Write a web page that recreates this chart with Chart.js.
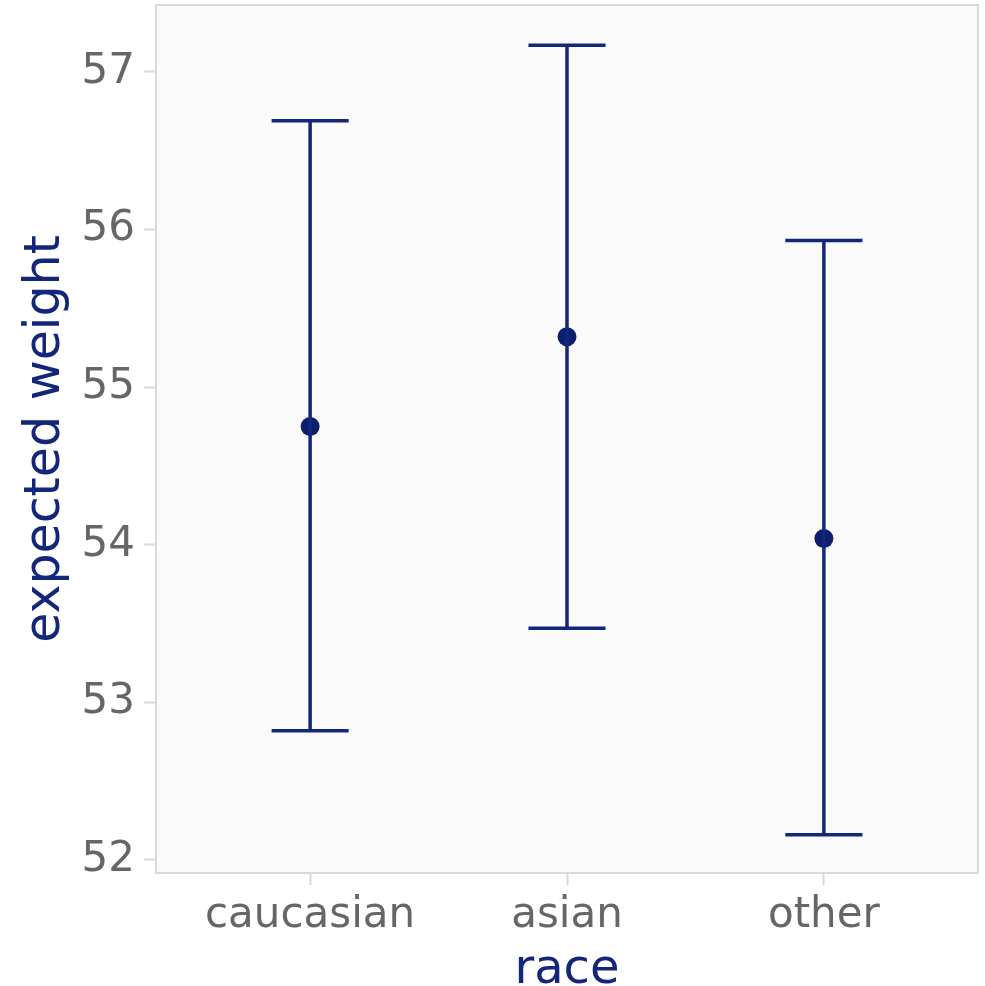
<!DOCTYPE html>
<html>
<head>
<meta charset="utf-8">
<script src="https://cdn.jsdelivr.net/npm/chart.js@4/dist/chart.umd.min.js"></script>
<style>
  html, body { margin: 0; padding: 0; background: #ffffff; }
  #wrap { width: 985px; height: 986px; }
</style>
</head>
<body>
<div id="wrap"><canvas id="c" width="985" height="986"></canvas></div>
<script>
// Expected weight by race, with interval bounds
const categories = ['caucasian', 'asian', 'other'];
const estimate = [54.75, 55.32, 54.04];
const lower = [52.82, 53.47, 52.16];
const upper = [56.69, 57.17, 55.93];
const yTicks = [52, 53, 54, 55, 56, 57];

const navy = '#14267a';
const capHalf = 0.15;

// Whisker segments: cap, stem, cap for each category, separated by gaps
const whiskers = [];
categories.forEach((c, i) => {
  const x = i + 1;
  whiskers.push({x: x - capHalf, y: upper[i]}, {x: x + capHalf, y: upper[i]}, {x: x, y: null});
  whiskers.push({x: x, y: upper[i]}, {x: x, y: lower[i]}, {x: x, y: null});
  whiskers.push({x: x - capHalf, y: lower[i]}, {x: x + capHalf, y: lower[i]}, {x: x, y: null});
});
const points = categories.map((c, i) => ({x: i + 1, y: estimate[i]}));

// Panel fill and frame
const panel = {
  id: 'panel',
  beforeDraw(chart) {
    const {ctx, chartArea: a} = chart;
    ctx.save();
    ctx.fillStyle = '#fafafa';
    ctx.fillRect(a.left, a.top, a.right - a.left, a.bottom - a.top);
    ctx.restore();
  },
  afterDraw(chart) {
    const {ctx, chartArea: a} = chart;
    ctx.save();
    ctx.strokeStyle = '#d9d9d9';
    ctx.lineWidth = 2;
    ctx.strokeRect(a.left, a.top, a.right - a.left, a.bottom - a.top);
    ctx.restore();
  }
};

Chart.defaults.font.family = '"DejaVu Sans", sans-serif';

new Chart(document.getElementById('c'), {
  type: 'scatter',
  data: {
    datasets: [
      {
        data: whiskers,
        showLine: true,
        spanGaps: false,
        borderColor: navy,
        borderWidth: 3.5,
        pointRadius: 0,
        pointHoverRadius: 0,
        fill: false
      },
      {
        data: points,
        pointRadius: 9.5,
        pointHoverRadius: 9.5,
        pointBackgroundColor: '#0c1f6e',
        pointBorderWidth: 0,
        borderColor: '#0c1f6e'
      }
    ]
  },
  options: {
    responsive: false,
    animation: false,
    events: [],
    layout: { autoPadding: false, padding: { top: 5, right: 7, left: 0, bottom: 0 } },
    plugins: { legend: { display: false }, tooltip: { enabled: false } },
    scales: {
      x: {
        type: 'linear',
        min: 0.4,
        max: 3.6,
        afterBuildTicks(scale) { scale.ticks = categories.map((c, i) => ({value: i + 1})); },
        afterFit(scale) {
          scale.height = 113;
          scale.paddingLeft = 0;
          scale.paddingRight = 0;
        },
        grid: { drawOnChartArea: false, drawTicks: true, tickLength: 12, tickColor: '#d9d9d9', tickWidth: 2 },
        border: { display: false },
        ticks: {
          color: '#666666',
          font: { size: 42 },
          padding: 6,
          autoSkip: false,
          maxRotation: 0,
          callback(v) { return categories[Math.round(v) - 1]; }
        },
        title: {
          display: true,
          text: 'race',
          color: navy,
          font: { size: 48, lineHeight: 0.65 },
          padding: { top: 0, bottom: 0 }
        }
      },
      y: {
        min: 51.917,
        max: 57.425,
        afterBuildTicks(scale) { scale.ticks = yTicks.map(v => ({value: v})); },
        afterFit(scale) {
          scale.width = 156;
          scale.paddingTop = 0;
          scale.paddingBottom = 0;
        },
        grid: { drawOnChartArea: false, drawTicks: true, tickLength: 12, tickColor: '#d9d9d9', tickWidth: 2 },
        border: { display: false },
        ticks: {
          color: '#666666',
          font: { size: 42 },
          padding: 9,
          callback(v) { return String(v); }
        },
        title: {
          display: true,
          text: 'expected weight',
          color: navy,
          font: { size: 49 },
          padding: { top: 17, bottom: 0 }
        }
      }
    }
  },
  plugins: [panel]
});
</script>
</body>
</html>
